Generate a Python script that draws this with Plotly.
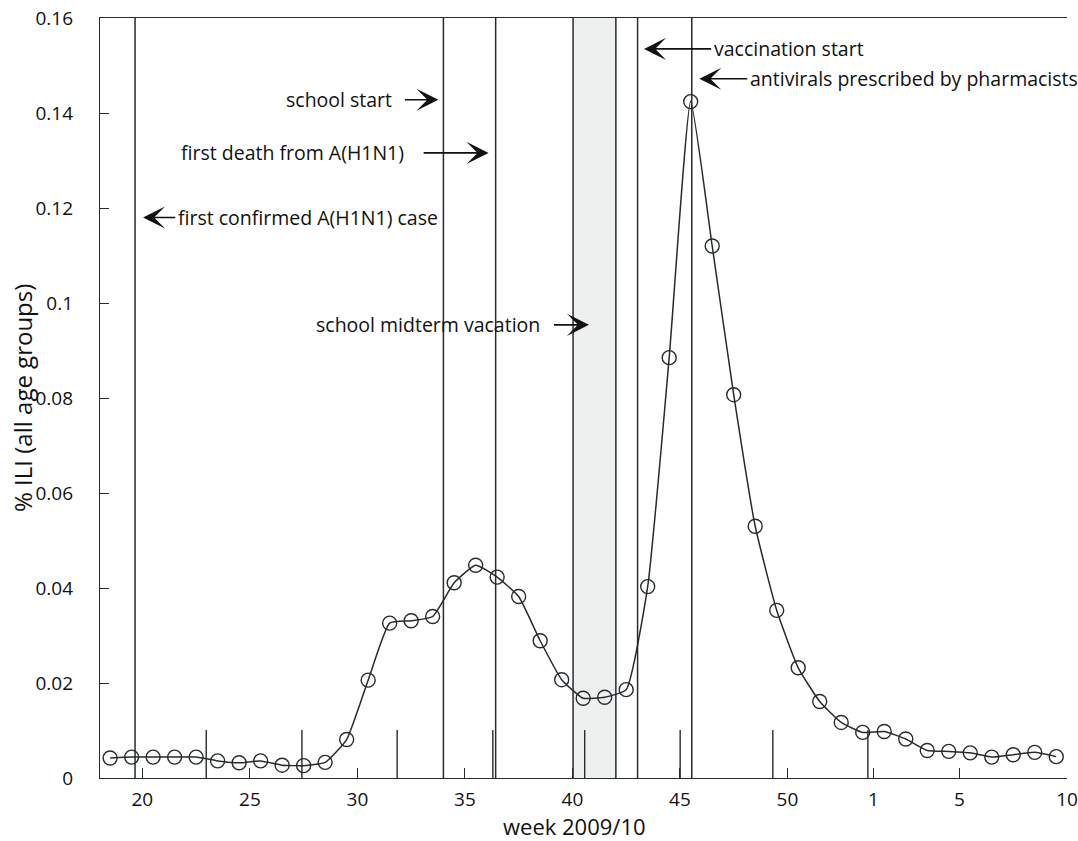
import plotly.graph_objects as go

# Weekly ILI share; 2010 weeks continue the 2009 numbering (2010 week 1 -> 54)
weeks = [18.5, 19.5, 20.5, 21.5, 22.5, 23.5, 24.5, 25.5, 26.5, 27.5,
         28.5, 29.5, 30.5, 31.5, 32.5, 33.5, 34.5, 35.5, 36.5, 37.5,
         38.5, 39.5, 40.5, 41.5, 42.5, 43.5, 44.5, 45.5, 46.5, 47.5,
         48.5, 49.5, 50.5, 51.5, 52.5, 53.5, 54.5, 55.5, 56.5, 57.5,
         58.5, 59.5, 60.5, 61.5, 62.5]
ili = [0.0042, 0.0044, 0.0044, 0.0044, 0.0044, 0.0036, 0.0032, 0.0036, 0.0027, 0.0026,
       0.0033, 0.0081, 0.0206, 0.0326, 0.0331, 0.0340, 0.0411, 0.0448, 0.0423, 0.0382,
       0.0289, 0.0207, 0.0168, 0.0170, 0.0186, 0.0403, 0.0885, 0.1424, 0.1120, 0.0807,
       0.0530, 0.0353, 0.0232, 0.0161, 0.0117, 0.0096, 0.0098, 0.0082, 0.0058, 0.0056,
       0.0053, 0.0044, 0.0049, 0.0054, 0.0045]

x_tickvals = [20, 25, 30, 35, 40, 45, 50, 54, 58, 63]
x_ticktext = ["20", "25", "30", "35", "40", "45", "50", "1", "5", "10"]
y_tickvals = [0, 0.02, 0.04, 0.06, 0.08, 0.1, 0.12, 0.14, 0.16]
y_ticktext = ["0", "0.02", "0.04", "0.06", "0.08", "0.1", "0.12", "0.14", "0.16"]

# Event markers (week positions)
event_weeks = [19.66, 34.0, 36.43, 43.03, 45.55]
midterm_start, midterm_end = 40.03, 42.02
# Secondary short marks along the bottom axis
short_marks = [22.97, 27.42, 31.85, 36.30, 40.57, 45.01, 49.32, 53.74]

# (label, label x, label y, label anchor, arrow tail x, arrow tip x)
event_labels = [
    ("first confirmed A(H1N1) case", 21.58, 0.1180, "left", 21.60, 20.03),
    ("school start", 31.72, 0.1428, "right", 32.14, 33.77),
    ("first death from A(H1N1)", 32.24, 0.1316, "right", 33.01, 36.10),
    ("school midterm vacation", 38.60, 0.0954, "right", 39.07, 40.77),
    ("vaccination start", 46.47, 0.1535, "left", 46.52, 43.33),
    ("antivirals prescribed by pharmacists", 48.15, 0.1472, "left", 48.20, 45.90),
]

INK = "#262b2e"
TEXT = "#111111"
FONT = "Open Sans"

fig = go.Figure()
fig.add_trace(go.Scatter(
    x=weeks, y=ili, mode="lines+markers",
    line=dict(color=INK, width=1.5, shape="spline", smoothing=0.45),
    marker=dict(symbol="circle-open", size=14, color=INK, line=dict(width=1.4, color=INK)),
    showlegend=False, hoverinfo="x+y",
))

shapes = [dict(type="rect", xref="x", yref="y", x0=midterm_start, x1=midterm_end,
               y0=0, y1=0.16, fillcolor="#eef0f0", line=dict(width=0), layer="below")]
for xv in event_weeks + [midterm_start, midterm_end]:
    shapes.append(dict(type="line", xref="x", yref="y", x0=xv, x1=xv, y0=0, y1=0.16,
                       line=dict(color=INK, width=1.5), layer="below"))
for xv in short_marks:
    shapes.append(dict(type="line", xref="x", yref="y", x0=xv, x1=xv, y0=0, y1=0.0101,
                       line=dict(color=INK, width=1.4), layer="below"))

annotations = []
for text, tx, ty, anchor, tail, tip in event_labels:
    annotations.append(dict(x=tx, y=ty, xref="x", yref="y", text=text, showarrow=False,
                            xanchor=anchor, yanchor="middle",
                            font=dict(family=FONT, size=19.5, color=TEXT)))
    annotations.append(dict(x=tip, y=ty, xref="x", yref="y", ax=tail, ay=ty,
                            axref="x", ayref="y", text="", showarrow=True,
                            arrowhead=3, arrowsize=2.3, arrowwidth=1.6, arrowcolor=TEXT))

annotations.append(dict(x=0.491, y=-0.0625, xref="paper", yref="paper", text="week 2009/10",
                        showarrow=False, xanchor="center", yanchor="middle",
                        font=dict(family=FONT, size=22, color=TEXT)))
annotations.append(dict(x=-0.0807, y=0.5, xref="paper", yref="paper",
                        text="% ILI (all age groups)", textangle=-90, showarrow=False,
                        xanchor="center", yanchor="middle",
                        font=dict(family=FONT, size=24, color=TEXT)))

fig.update_layout(
    width=1078, height=841,
    margin=dict(l=100, r=11, t=18, b=63, autoexpand=False),
    paper_bgcolor="white", plot_bgcolor="white",
    shapes=shapes, annotations=annotations,
    font=dict(family=FONT, size=19, color=TEXT),
    xaxis=dict(range=[18.03, 63], tickvals=x_tickvals, ticktext=x_ticktext,
               ticks="inside", ticklen=10, tickwidth=1.4, tickcolor=INK,
               showline=True, linecolor=INK, linewidth=1.4, mirror=True,
               showgrid=False, zeroline=False, ticklabelstandoff=4, automargin=False,
               tickfont=dict(family=FONT, size=19, color=TEXT)),
    yaxis=dict(range=[0, 0.16], tickvals=y_tickvals, ticktext=y_ticktext,
               ticks="inside", ticklen=9, tickwidth=1.4, tickcolor=INK,
               showline=True, linecolor=INK, linewidth=1.4,
               showgrid=False, zeroline=False, ticklabelstandoff=22, automargin=False,
               tickfont=dict(family=FONT, size=19, color=TEXT)),
)

fig.write_html("out.html")
